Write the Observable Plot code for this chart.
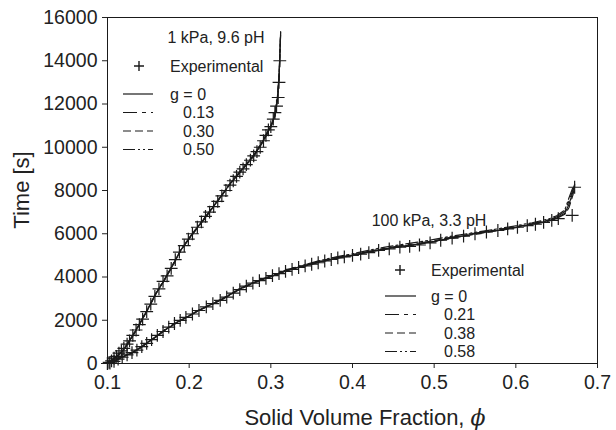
<!DOCTYPE html>
<html><head><meta charset="utf-8">
<script src="https://cdn.jsdelivr.net/npm/d3@7"></script>
<script src="https://cdn.jsdelivr.net/npm/@observablehq/plot@0.6"></script>
<style>
html,body{margin:0;padding:0;background:#fff;}
</style>
</head><body>
<div id="chart"></div>
<script>
// ---------- data ----------
const xTicks = [0.1, 0.2, 0.3, 0.4, 0.5, 0.6, 0.7];
const yTicks = [0, 2000, 4000, 6000, 8000, 10000, 12000, 14000, 16000];

// 1 kPa, 9.6 pH — model curves
const phiA = [0.100,0.110,0.120,0.130,0.140,0.150,0.160,0.170,0.180,0.190,0.200,0.210,0.220,0.230,0.240,0.250,0.260,0.270,0.280,0.290,0.300,0.305,0.308,0.310,0.311,0.312];
const tA_g000 = [0,270,650,1220,1870,2550,3280,3880,4550,5250,5780,6280,6760,7270,7770,8300,8750,9200,9650,10250,10950,11450,12200,13200,14200,15300];
const tA_g013 = [0,280,660,1240,1890,2570,3260,3900,4570,5230,5800,6300,6780,7250,7790,8280,8770,9220,9670,10280,10980,11500,12250,13250,14300,15250];
const tA_g030 = [0,260,640,1200,1850,2530,3290,3870,4530,5260,5760,6260,6740,7290,7760,8320,8730,9180,9630,10220,10920,11420,12150,13150,14150,15350];
const tA_g050 = [0,290,670,1250,1900,2580,3300,3910,4580,5270,5810,6310,6790,7300,7800,8330,8780,9230,9690,10300,11000,11550,12300,13300,14250,15200];
// 1 kPa experimental
const expA_phi = [0.100,0.102,0.105,0.108,0.111,0.114,0.117,0.120,0.124,0.127,0.131,0.135,0.139,0.143,0.148,0.153,0.158,0.163,0.168,0.173,0.178,0.183,0.188,0.194,0.199,0.204,0.210,0.215,0.220,0.225,0.230,0.235,0.240,0.245,0.250,0.254,0.258,0.262,0.266,0.270,0.275,0.279,0.283,0.287,0.291,0.294,0.297,0.300,0.303,0.305,0.307,0.309,0.310,0.311];
const expA_t   = [0,50,120,250,330,480,580,700,900,1050,1300,1550,1800,2050,2400,2750,3100,3450,3800,4050,4400,4800,5150,5450,5750,6000,6300,6550,6800,7000,7250,7500,7750,8000,8250,8450,8650,8850,9000,9200,9400,9600,9800,10000,10300,10550,10800,10950,11300,11600,11900,12300,13000,14000];

// 100 kPa, 3.3 pH — model curves
const phiB = [0.10,0.11,0.12,0.13,0.14,0.15,0.16,0.17,0.18,0.19,0.20,0.21,0.22,0.24,0.26,0.28,0.30,0.32,0.34,0.36,0.38,0.40,0.42,0.44,0.46,0.48,0.50,0.52,0.54,0.56,0.58,0.60,0.62,0.64,0.65,0.66,0.665,0.670,0.672];
const tB_g000 = [0,150,330,490,720,990,1250,1540,1780,2000,2200,2420,2600,2960,3400,3750,4020,4300,4500,4700,4870,5000,5170,5300,5420,5520,5650,5800,5930,6060,6170,6300,6440,6600,6730,6950,7350,7950,8300];
const tB_g021 = [0,155,340,500,730,1000,1260,1550,1790,2010,2210,2430,2610,2970,3410,3760,4030,4310,4520,4720,4890,5030,5190,5330,5450,5560,5680,5830,5960,6090,6200,6330,6470,6640,6780,7030,7500,8050,8250];
const tB_g038 = [0,145,320,480,710,980,1240,1530,1770,1990,2190,2410,2590,2950,3390,3740,4010,4290,4490,4690,4860,4990,5150,5280,5400,5500,5630,5780,5910,6040,6150,6280,6420,6580,6700,6900,7200,7800,8200];
const tB_g058 = [0,160,345,505,735,1010,1270,1560,1800,2020,2220,2440,2620,2990,3430,3780,4060,4340,4550,4760,4930,5070,5240,5380,5500,5610,5740,5880,6000,6120,6240,6370,6510,6680,6830,7100,7650,8150,8200];
// 100 kPa experimental
const expB_phi = [0.100,0.103,0.108,0.113,0.118,0.124,0.130,0.136,0.142,0.148,0.154,0.161,0.168,0.175,0.182,0.189,0.196,0.204,0.212,0.221,0.229,0.238,0.246,0.254,0.262,0.270,0.278,0.286,0.294,0.302,0.310,0.318,0.326,0.334,0.342,0.350,0.358,0.366,0.374,0.382,0.390,0.400,0.410,0.420,0.432,0.445,0.458,0.470,0.482,0.495,0.508,0.522,0.536,0.550,0.564,0.578,0.590,0.602,0.614,0.624,0.634,0.644,0.652,0.669,0.672];
const expB_t   = [0,20,100,200,290,400,500,620,780,930,1100,1300,1480,1680,1850,1990,2130,2290,2450,2620,2770,2920,3070,3250,3420,3580,3720,3830,3940,4060,4160,4260,4350,4440,4510,4590,4660,4740,4810,4880,4930,5000,5060,5130,5230,5300,5380,5420,5480,5580,5700,5800,5890,6000,6080,6150,6230,6300,6380,6440,6530,6620,6700,6850,8150];

const legendA = {title: "1 kPa, 9.6 pH", exp: "Experimental", g: ["g = 0", "0.13", "0.30", "0.50"]};
const legendB = {title: "100 kPa, 3.3 pH", exp: "Experimental", g: ["g = 0", "0.21", "0.38", "0.58"]};

// ---------- build ----------
const dashes = [null, "14,5,4,5", "8,4", "12,3,2,3,2,3"];
const rows = (xs, ys) => xs.map((x, i) => ({phi: x, t: ys[i]}));
const seriesA = [tA_g000, tA_g013, tA_g030, tA_g050];
const seriesB = [tB_g000, tB_g021, tB_g038, tB_g058];
const ink = "#1a1a1a";
const FONT = "'Liberation Sans', Arial, Helvetica, sans-serif";

const lineMarks = [];
seriesA.forEach((s, i) => lineMarks.push(Plot.line(rows(phiA, s), {x: "phi", y: "t", stroke: ink, strokeWidth: 1.2, strokeDasharray: dashes[i]})));
seriesB.forEach((s, i) => lineMarks.push(Plot.line(rows(phiB, s), {x: "phi", y: "t", stroke: ink, strokeWidth: 1.2, strokeDasharray: dashes[i]})));

const chart = Plot.plot({
  width: 616, height: 430,
  marginLeft: 107, marginRight: 19, marginTop: 17, marginBottom: 67,
  style: {fontFamily: FONT, fontSize: "19.5px", color: "#222", background: "#fff"},
  x: {domain: [0.1, 0.7], ticks: xTicks, tickSize: 5, tickPadding: 7, tickFormat: d3.format(".1f"), label: null},
  y: {domain: [0, 16000], ticks: yTicks, tickSize: 5, tickPadding: 5, tickFormat: d => String(d), label: null},
  marks: [
    Plot.frame({stroke: ink, strokeWidth: 1}),
    ...lineMarks,
    Plot.dot(rows(expA_phi, expA_t), {x: "phi", y: "t", symbol: "plus", r: 4.2, stroke: ink, strokeWidth: 1.2}),
    Plot.dot(rows(expB_phi, expB_t), {x: "phi", y: "t", symbol: "plus", r: 4.2, stroke: ink, strokeWidth: 1.2})
  ]
});
document.getElementById("chart").appendChild(chart);

// ---------- titles & legends (pixel overlay) ----------
const svg = d3.select(chart);
const g = svg.append("g").attr("font-family", FONT).attr("fill", "#222").attr("text-anchor", "start");

g.append("text").attr("transform", "translate(29,190) rotate(-90)")
  .attr("text-anchor", "middle").attr("font-size", 22).text("Time [s]");
const xt = g.append("text").attr("x", 365).attr("y", 425).attr("text-anchor", "middle").attr("font-size", 22);
xt.append("tspan").text("Solid Volume Fraction, ");
xt.append("tspan").attr("font-style", "italic").attr("font-family", "'DejaVu Serif', serif").text("\u03D5");

function legend(L, o) {
  const lg = g.append("g").attr("font-size", 16).attr("text-anchor", "start");
  lg.append("text").attr("x", o.titleX).attr("y", o.titleY).attr("text-anchor", "middle").text(L.title);
  lg.append("path").attr("d", "M-5,0H5M0,-5V5").attr("transform", `translate(${o.plusX},${o.expY - 6})`)
    .attr("stroke", ink).attr("stroke-width", 1.4).attr("fill", "none");
  lg.append("text").attr("x", o.textX).attr("y", o.expY).text(L.exp);
  L.g.forEach((lab, i) => {
    const y = o.lineY0 + i * o.step;
    lg.append("line").attr("x1", o.lineX1).attr("x2", o.lineX2).attr("y1", y).attr("y2", y)
      .attr("stroke", ink).attr("stroke-width", 1.2).attr("stroke-dasharray", dashes[i]);
    lg.append("text").attr("x", i === 0 ? o.textX : o.textX + 13).attr("y", y + 5.5).text(lab);
  });
}
legend(legendA, {titleX: 216, titleY: 43, plusX: 139, expY: 72, textX: 170, lineX1: 123, lineX2: 153, lineY0: 94, step: 18.5});
legend(legendB, {titleX: 429, titleY: 226, plusX: 400, expY: 276, textX: 431, lineX1: 385, lineX2: 416, lineY0: 296, step: 18.5});
</script>
</body></html>
